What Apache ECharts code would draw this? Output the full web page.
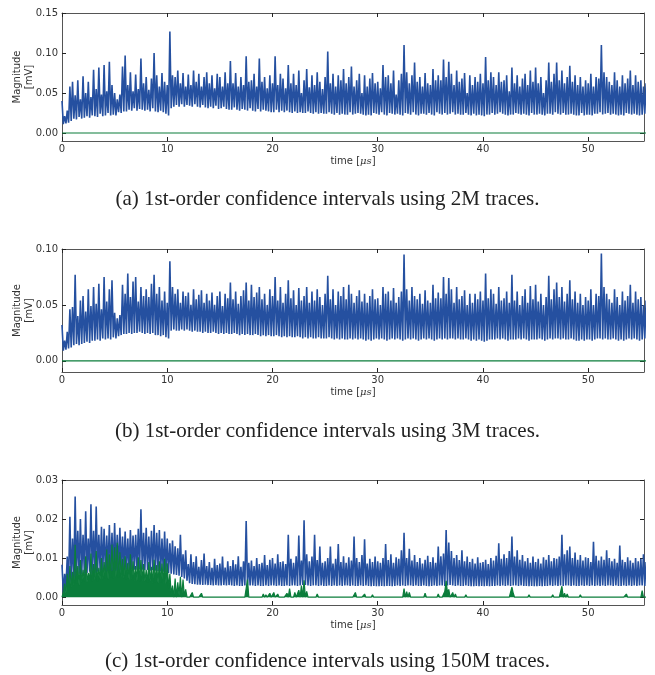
<!DOCTYPE html>
<html>
<head>
<meta charset="utf-8">
<script src="https://cdn.jsdelivr.net/npm/echarts@6/dist/echarts.min.js"></script>
<style>
  html, body { margin: 0; padding: 0; background: #fff; }
  #chart { width: 655px; height: 675px; }
</style>
</head>
<body>
<div id="chart"></div>
<script>
  // sampling step of the traces, in microseconds (8 samples per µs)
  const timeStep = 0.125;

  const xTicks = [0, 10, 20, 30, 40, 50];
  const yTicksA = [0, 0.05, 0.1, 0.15];
  const yTicksB = [0, 0.05, 0.1];
  const yTicksC = [0, 0.01, 0.02, 0.03];

  const captions = [
    '(a) 1st-order confidence intervals using 2M traces.',
    '(b) 1st-order confidence intervals using 3M traces.',
    '(c) 1st-order confidence intervals using 150M traces.',
  ];

  // (a) 2M traces, upper trace [mV], one row per µs
  const blueA = [
    0.040,0.011,0.021,0.012,0.028,0.013,0.058,0.015,
    0.064,0.018,0.047,0.017,0.066,0.020,0.042,0.018,
    0.071,0.019,0.050,0.021,0.064,0.019,0.045,0.022,
    0.079,0.021,0.055,0.020,0.082,0.024,0.048,0.021,
    0.085,0.022,0.052,0.025,0.089,0.022,0.060,0.023,
    0.050,0.022,0.042,0.026,0.048,0.025,0.083,0.027,
    0.097,0.027,0.060,0.029,0.076,0.028,0.052,0.031,
    0.073,0.028,0.055,0.030,0.093,0.029,0.062,0.028,
    0.070,0.029,0.054,0.027,0.068,0.031,0.100,0.027,
    0.072,0.026,0.058,0.028,0.075,0.026,0.064,0.024,
    0.060,0.022,0.127,0.031,0.072,0.033,0.070,0.035,
    0.078,0.033,0.062,0.036,0.075,0.033,0.058,0.035,
    0.073,0.034,0.060,0.033,0.078,0.036,0.064,0.033,
    0.074,0.032,0.058,0.035,0.070,0.032,0.076,0.031,
    0.062,0.033,0.072,0.031,0.056,0.034,0.074,0.030,
    0.070,0.031,0.058,0.033,0.076,0.030,0.062,0.029,
    0.090,0.029,0.062,0.032,0.075,0.029,0.058,0.028,
    0.070,0.030,0.060,0.029,0.096,0.028,0.064,0.031,
    0.066,0.028,0.074,0.027,0.058,0.030,0.093,0.027,
    0.064,0.029,0.070,0.028,0.056,0.027,0.072,0.026,
    0.062,0.026,0.096,0.029,0.060,0.026,0.074,0.028,
    0.068,0.026,0.056,0.028,0.085,0.026,0.062,0.025,
    0.074,0.027,0.060,0.025,0.078,0.026,0.050,0.025,
    0.066,0.025,0.080,0.027,0.057,0.025,0.072,0.024,
    0.060,0.026,0.076,0.024,0.064,0.025,0.055,0.024,
    0.070,0.024,0.102,0.026,0.062,0.024,0.074,0.023,
    0.058,0.025,0.072,0.023,0.066,0.024,0.080,0.023,
    0.062,0.023,0.070,0.026,0.083,0.023,0.058,0.024,
    0.066,0.025,0.074,0.024,0.050,0.023,0.072,0.022,
    0.058,0.023,0.068,0.022,0.075,0.025,0.062,0.024,
    0.064,0.023,0.056,0.026,0.085,0.023,0.070,0.022,
    0.072,0.025,0.062,0.024,0.078,0.023,0.048,0.024,
    0.066,0.023,0.074,0.022,0.110,0.025,0.076,0.024,
    0.062,0.023,0.072,0.026,0.088,0.023,0.064,0.022,
    0.070,0.024,0.058,0.024,0.075,0.023,0.062,0.025,
    0.060,0.023,0.080,0.022,0.066,0.026,0.072,0.024,
    0.066,0.023,0.092,0.025,0.070,0.023,0.089,0.024,
    0.074,0.026,0.060,0.023,0.078,0.024,0.064,0.023,
    0.068,0.023,0.075,0.025,0.050,0.023,0.072,0.022,
    0.060,0.024,0.070,0.022,0.064,0.023,0.074,0.022,
    0.062,0.021,0.095,0.023,0.066,0.023,0.076,0.025,
    0.070,0.023,0.060,0.024,0.076,0.026,0.064,0.024,
    0.066,0.023,0.072,0.022,0.052,0.023,0.082,0.023,
    0.062,0.025,0.072,0.024,0.058,0.023,0.068,0.024,
    0.074,0.023,0.060,0.022,0.078,0.025,0.064,0.023,
    0.082,0.023,0.062,0.024,0.070,0.023,0.050,0.022,
    0.066,0.024,0.088,0.024,0.064,0.023,0.074,0.026,
    0.088,0.024,0.066,0.023,0.078,0.025,0.062,0.023,
    0.070,0.023,0.084,0.024,0.064,0.023,0.072,0.022,
    0.060,0.022,0.070,0.025,0.058,0.022,0.066,0.023,
    0.062,0.023,0.074,0.022,0.058,0.024,0.070,0.024,
    0.068,0.026,0.110,0.023,0.076,0.024,0.070,0.025,
    0.064,0.023,0.060,0.024,0.076,0.023,0.066,0.022,
    0.058,0.023,0.072,0.022,0.062,0.025,0.068,0.024,
    0.078,0.023,0.060,0.024,0.072,0.023,0.064,0.022,
    0.066,0.023,0.058,0.024,0.062,0.023,0.060,0.024,
  ];
  // (a) lower trace: flat at zero
  const greenATime = [0, 55.875];
  const greenA = [0, 0];

  // (b) 3M traces, upper trace [mV]
  const blueB = [
    0.032,0.009,0.018,0.010,0.026,0.011,0.046,0.012,
    0.048,0.014,0.077,0.015,0.040,0.014,0.054,0.015,
    0.058,0.016,0.044,0.017,0.064,0.016,0.049,0.018,
    0.066,0.018,0.051,0.019,0.069,0.018,0.046,0.020,
    0.075,0.019,0.053,0.020,0.064,0.019,0.072,0.021,
    0.043,0.020,0.038,0.022,0.041,0.023,0.068,0.024,
    0.060,0.024,0.078,0.025,0.057,0.024,0.071,0.025,
    0.075,0.025,0.053,0.026,0.066,0.025,0.058,0.024,
    0.064,0.025,0.057,0.024,0.069,0.025,0.077,0.023,
    0.060,0.023,0.066,0.022,0.054,0.023,0.062,0.021,
    0.052,0.020,0.089,0.027,0.066,0.028,0.060,0.027,
    0.064,0.027,0.052,0.028,0.062,0.027,0.058,0.028,
    0.061,0.027,0.050,0.026,0.064,0.027,0.055,0.026,
    0.059,0.026,0.063,0.025,0.052,0.026,0.060,0.025,
    0.054,0.025,0.061,0.026,0.050,0.025,0.058,0.024,
    0.062,0.025,0.049,0.024,0.060,0.025,0.056,0.024,
    0.070,0.024,0.055,0.025,0.062,0.024,0.051,0.023,
    0.058,0.024,0.063,0.023,0.070,0.024,0.054,0.023,
    0.068,0.023,0.057,0.024,0.061,0.023,0.066,0.022,
    0.055,0.023,0.060,0.022,0.050,0.023,0.064,0.022,
    0.058,0.022,0.075,0.023,0.054,0.022,0.066,0.021,
    0.052,0.022,0.060,0.021,0.072,0.022,0.056,0.021,
    0.063,0.021,0.050,0.022,0.065,0.021,0.054,0.020,
    0.058,0.021,0.066,0.020,0.052,0.021,0.062,0.020,
    0.054,0.020,0.064,0.021,0.057,0.020,0.050,0.020,
    0.060,0.020,0.076,0.021,0.055,0.020,0.064,0.019,
    0.050,0.020,0.062,0.019,0.058,0.020,0.066,0.019,
    0.055,0.019,0.068,0.020,0.060,0.019,0.052,0.020,
    0.058,0.019,0.063,0.020,0.053,0.019,0.060,0.018,
    0.052,0.019,0.058,0.018,0.064,0.019,0.055,0.020,
    0.056,0.019,0.050,0.020,0.066,0.019,0.060,0.018,
    0.062,0.019,0.054,0.020,0.065,0.019,0.052,0.020,
    0.057,0.019,0.062,0.018,0.095,0.019,0.064,0.020,
    0.054,0.019,0.066,0.020,0.058,0.019,0.055,0.018,
    0.060,0.019,0.051,0.020,0.063,0.019,0.054,0.020,
    0.052,0.019,0.068,0.018,0.056,0.019,0.061,0.020,
    0.056,0.019,0.075,0.020,0.060,0.019,0.074,0.020,
    0.064,0.020,0.052,0.019,0.066,0.020,0.055,0.019,
    0.058,0.019,0.063,0.020,0.050,0.019,0.060,0.018,
    0.052,0.019,0.060,0.018,0.055,0.019,0.062,0.018,
    0.054,0.017,0.078,0.018,0.056,0.019,0.064,0.019,
    0.060,0.019,0.051,0.020,0.066,0.019,0.054,0.020,
    0.056,0.019,0.062,0.018,0.052,0.019,0.077,0.019,
    0.054,0.019,0.062,0.020,0.050,0.019,0.058,0.020,
    0.064,0.019,0.052,0.018,0.067,0.019,0.055,0.019,
    0.068,0.019,0.053,0.020,0.060,0.019,0.050,0.018,
    0.057,0.019,0.076,0.020,0.055,0.019,0.064,0.020,
    0.070,0.020,0.057,0.019,0.066,0.020,0.053,0.019,
    0.060,0.019,0.072,0.020,0.055,0.019,0.062,0.018,
    0.052,0.018,0.060,0.019,0.050,0.018,0.057,0.019,
    0.054,0.019,0.064,0.018,0.050,0.019,0.060,0.020,
    0.058,0.020,0.096,0.019,0.066,0.020,0.060,0.019,
    0.055,0.019,0.052,0.020,0.064,0.019,0.057,0.018,
    0.050,0.019,0.062,0.018,0.054,0.019,0.058,0.020,
    0.068,0.019,0.052,0.020,0.062,0.019,0.055,0.018,
    0.057,0.019,0.050,0.020,0.054,0.019,0.052,0.020,
  ];
  // (b) lower trace: zero with a tiny blip near 5 µs
  const greenBTime = [0, 4.875, 4.95, 5.0, 5.05, 5.125, 55.875];
  const greenB = [0, 0, 0.0012, 0, 0.0010, 0, 0];

  // (c) 150M traces, upper trace [mV]
  const blueC = [
    0.0083,0.0012,0.0060,0.0025,0.0104,0.0035,0.0206,0.0040,
    0.0150,0.0050,0.0258,0.0055,0.0170,0.0060,0.0200,0.0058,
    0.0160,0.0060,0.0220,0.0062,0.0150,0.0065,0.0238,0.0060,
    0.0170,0.0062,0.0232,0.0065,0.0160,0.0066,0.0180,0.0064,
    0.0175,0.0066,0.0158,0.0068,0.0185,0.0067,0.0165,0.0068,
    0.0190,0.0068,0.0160,0.0070,0.0178,0.0069,0.0155,0.0070,
    0.0168,0.0070,0.0150,0.0069,0.0172,0.0071,0.0158,0.0070,
    0.0160,0.0070,0.0175,0.0071,0.0225,0.0070,0.0165,0.0069,
    0.0178,0.0070,0.0155,0.0068,0.0170,0.0069,0.0185,0.0068,
    0.0165,0.0067,0.0172,0.0066,0.0150,0.0065,0.0168,0.0064,
    0.0150,0.0062,0.0138,0.0060,0.0145,0.0058,0.0130,0.0057,
    0.0125,0.0055,0.0160,0.0052,0.0110,0.0048,0.0120,0.0042,
    0.0085,0.0036,0.0110,0.0034,0.0090,0.0033,0.0105,0.0032,
    0.0078,0.0032,0.0095,0.0031,0.0112,0.0032,0.0080,0.0031,
    0.0090,0.0031,0.0075,0.0030,0.0098,0.0031,0.0082,0.0030,
    0.0086,0.0030,0.0104,0.0031,0.0076,0.0030,0.0092,0.0031,
    0.0080,0.0030,0.0095,0.0029,0.0084,0.0030,0.0105,0.0029,
    0.0078,0.0029,0.0092,0.0030,0.0195,0.0031,0.0088,0.0030,
    0.0094,0.0030,0.0080,0.0029,0.0100,0.0030,0.0085,0.0029,
    0.0088,0.0029,0.0108,0.0030,0.0082,0.0029,0.0096,0.0030,
    0.0100,0.0030,0.0086,0.0029,0.0110,0.0030,0.0090,0.0029,
    0.0092,0.0029,0.0085,0.0030,0.0160,0.0029,0.0098,0.0030,
    0.0088,0.0030,0.0105,0.0029,0.0158,0.0030,0.0094,0.0031,
    0.0197,0.0031,0.0110,0.0030,0.0092,0.0029,0.0104,0.0030,
    0.0160,0.0030,0.0095,0.0029,0.0130,0.0030,0.0088,0.0029,
    0.0092,0.0029,0.0100,0.0030,0.0130,0.0029,0.0086,0.0030,
    0.0098,0.0029,0.0136,0.0030,0.0090,0.0029,0.0105,0.0030,
    0.0088,0.0030,0.0102,0.0029,0.0094,0.0030,0.0155,0.0029,
    0.0100,0.0029,0.0090,0.0030,0.0108,0.0029,0.0148,0.0030,
    0.0086,0.0029,0.0098,0.0028,0.0090,0.0029,0.0104,0.0028,
    0.0092,0.0028,0.0088,0.0029,0.0100,0.0028,0.0136,0.0029,
    0.0095,0.0029,0.0110,0.0028,0.0088,0.0029,0.0102,0.0030,
    0.0098,0.0029,0.0120,0.0030,0.0165,0.0029,0.0100,0.0030,
    0.0124,0.0030,0.0094,0.0029,0.0108,0.0030,0.0090,0.0029,
    0.0100,0.0029,0.0086,0.0030,0.0096,0.0029,0.0106,0.0028,
    0.0090,0.0029,0.0102,0.0030,0.0088,0.0029,0.0130,0.0030,
    0.0105,0.0030,0.0112,0.0029,0.0172,0.0030,0.0140,0.0031,
    0.0118,0.0030,0.0100,0.0029,0.0108,0.0030,0.0095,0.0029,
    0.0120,0.0029,0.0092,0.0030,0.0104,0.0029,0.0090,0.0028,
    0.0098,0.0028,0.0086,0.0029,0.0102,0.0028,0.0088,0.0029,
    0.0090,0.0028,0.0096,0.0029,0.0085,0.0028,0.0100,0.0029,
    0.0094,0.0029,0.0106,0.0030,0.0138,0.0029,0.0098,0.0030,
    0.0110,0.0029,0.0100,0.0030,0.0118,0.0029,0.0155,0.0030,
    0.0104,0.0030,0.0120,0.0029,0.0096,0.0030,0.0108,0.0029,
    0.0092,0.0029,0.0100,0.0028,0.0088,0.0029,0.0104,0.0028,
    0.0090,0.0028,0.0098,0.0029,0.0086,0.0028,0.0102,0.0029,
    0.0096,0.0029,0.0108,0.0030,0.0092,0.0029,0.0100,0.0030,
    0.0098,0.0029,0.0104,0.0030,0.0160,0.0029,0.0110,0.0030,
    0.0120,0.0030,0.0130,0.0029,0.0100,0.0030,0.0114,0.0029,
    0.0096,0.0029,0.0108,0.0030,0.0094,0.0029,0.0102,0.0030,
    0.0100,0.0029,0.0090,0.0030,0.0142,0.0029,0.0106,0.0030,
    0.0094,0.0029,0.0104,0.0030,0.0096,0.0029,0.0120,0.0030,
    0.0100,0.0030,0.0092,0.0029,0.0098,0.0030,0.0088,0.0029,
    0.0132,0.0029,0.0096,0.0030,0.0090,0.0029,0.0102,0.0030,
    0.0094,0.0029,0.0088,0.0030,0.0100,0.0029,0.0092,0.0030,
    0.0098,0.0030,0.0110,0.0029,0.0090,0.0030,0.0096,0.0029,
  ];
  // (c) lower trace [mV]
  const greenC = [
    0,0.0012,0.0035,0.0010,0.0060,0.0018,0.0080,0.0025,
    0.0065,0.0030,0.0134,0.0035,0.0080,0.0030,0.0095,0.0038,
    0.0070,0.0040,0.0105,0.0038,0.0062,0.0042,0.0112,0.0040,
    0.0085,0.0044,0.0118,0.0040,0.0075,0.0046,0.0100,0.0045,
    0.0090,0.0048,0.0122,0.0045,0.0110,0.0050,0.0135,0.0048,
    0.0128,0.0052,0.0139,0.0050,0.0115,0.0052,0.0098,0.0048,
    0.0105,0.0046,0.0088,0.0044,0.0110,0.0045,0.0092,0.0042,
    0.0080,0.0042,0.0102,0.0040,0.0095,0.0042,0.0085,0.0040,
    0.0070,0.0038,0.0090,0.0040,0.0078,0.0036,0.0096,0.0038,
    0.0082,0.0036,0.0092,0.0038,0.0086,0.0034,0.0098,0.0034,
    0.0087,0.0022,0.0060,0.0008,0.0030,0,0.0048,0,
    0.0038,0.0005,0.0052,0,0.0045,0.0002,0.0020,0,
    0,0,0,0.0012,0,0,0,0,
    0,0,0.0010,0,0,0,0,0,
    0,0,0,0,0,0,0,0,
    0,0,0,0,0,0,0,0,
    0,0,0,0,0,0,0,0,
    0,0,0,0,0,0.0045,0,0,
    0,0,0,0,0,0,0,0,
    0,0.0008,0,0.0006,0,0,0.0010,0,
    0,0.0012,0,0,0.0008,0,0,0,
    0,0,0,0.0010,0,0.0022,0,0,
    0,0.0012,0,0,0.0018,0,0.0030,0,
    0.0043,0,0.0015,0,0,0,0,0,
    0,0,0.0008,0,0,0,0,0,
    0,0,0,0,0,0,0,0,
    0,0,0,0,0,0,0,0,
    0,0,0,0,0,0,0,0.0012,
    0,0,0,0,0,0,0.0008,0,
    0,0,0,0,0.0006,0,0,0,
    0,0,0,0,0,0,0,0,
    0,0,0,0,0,0,0,0,
    0,0,0,0,0.0022,0,0.0014,0,
    0.0012,0,0,0,0,0,0,0,
    0,0,0,0,0.0010,0,0,0,
    0,0,0,0,0,0,0.0008,0,
    0,0,0,0.0015,0.0042,0.0012,0.0020,0,
    0,0.0012,0,0.0008,0,0,0,0,
    0,0,0,0.0006,0,0,0,0,
    0,0,0,0,0,0,0,0,
    0,0,0,0,0,0,0,0,
    0,0,0,0,0,0,0,0,
    0,0,0,0,0,0,0.0026,0.0010,
    0,0,0,0,0,0,0,0,
    0,0,0,0.0006,0,0,0,0,
    0,0,0,0,0,0,0,0,
    0,0,0,0,0,0.0006,0,0,
    0,0,0,0,0.0028,0,0.0010,0,
    0.0008,0,0,0,0,0,0,0,
    0,0,0.0006,0,0,0,0,0,
    0,0,0,0,0,0,0,0,
    0,0,0,0,0,0,0,0,
    0,0,0,0,0,0,0,0,
    0,0,0,0,0,0.0008,0,0,
    0,0,0,0,0,0,0,0,
    0,0.0017,0,0,0,0,0,0,
  ];

  const blue = '#2550a0';
  const green = '#0b7d3b';
  const frame = '#555';
  const labelFont = 'DejaVu Sans';

  const onGrid = (values) => values.map((v, i) => [i * timeStep, v]);
  const pairs = (times, values) => times.map((t, i) => [t, values[i]]);

  const panels = [
    { top: 13, height: 128, yMin: -0.01, yMax: 0.15, yTicks: yTicksA, blue: blueA, green: pairs(greenATime, greenA), fill: false },
    { top: 249, height: 123, yMin: -0.01, yMax: 0.1, yTicks: yTicksB, blue: blueB, green: pairs(greenBTime, greenB), fill: false },
    { top: 480, height: 125, yMin: -0.002, yMax: 0.03, yTicks: yTicksC, blue: blueC, green: onGrid(greenC), fill: true },
  ];
  const captionTops = [184, 416, 646];

  const grid = [];
  const xAxis = [];
  const yAxis = [];
  const series = [];

  panels.forEach((p, k) => {
    grid.push({ left: 62, top: p.top, width: 582, height: p.height, show: false, containLabel: false, outerBoundsMode: 'none' });
    const tick = { show: true, inside: true, length: 4, lineStyle: { color: '#222', width: 1 } };
    const line = { show: true, onZero: false, lineStyle: { color: frame, width: 1 } };
    // bottom + top x axes
    xAxis.push({
      type: 'value', gridIndex: k, min: 0, max: 55.3, position: 'bottom',
      axisLine: line, splitLine: { show: false },
      axisTick: { ...tick, customValues: xTicks },
      axisLabel: { customValues: xTicks, color: '#333', fontFamily: labelFont, fontSize: 10, margin: 3 },
      name: 'time [{i|μs}]', nameLocation: 'middle', nameGap: 15, nameMoveOverlap: false,
      nameTextStyle: { color: '#333', fontFamily: labelFont, fontSize: 10,
        rich: { i: { fontFamily: 'DejaVu Serif', fontStyle: 'italic', fontSize: 10, color: '#333' } } },
    });
    xAxis.push({
      type: 'value', gridIndex: k, min: 0, max: 55.3, position: 'top',
      axisLine: line, splitLine: { show: false },
      axisTick: { ...tick, customValues: xTicks }, axisLabel: { show: false },
    });
    // left + right y axes
    yAxis.push({
      type: 'value', gridIndex: k, min: p.yMin, max: p.yMax, position: 'left',
      axisLine: line, splitLine: { show: false },
      axisTick: { ...tick, customValues: p.yTicks },
      axisLabel: { customValues: p.yTicks, formatter: (v) => v.toFixed(2), color: '#333', fontFamily: labelFont, fontSize: 10, margin: 4 },
      name: 'Magnitude\n[mV]', nameLocation: 'middle', nameRotate: 90, nameGap: 27, nameMoveOverlap: false,
      nameTextStyle: { color: '#333', fontFamily: labelFont, fontSize: 10, lineHeight: 12, align: 'center' },
    });
    yAxis.push({
      type: 'value', gridIndex: k, min: p.yMin, max: p.yMax, position: 'right',
      axisLine: line, splitLine: { show: false },
      axisTick: { ...tick, customValues: p.yTicks }, axisLabel: { show: false },
    });

    series.push({
      type: 'line', xAxisIndex: 2 * k, yAxisIndex: 2 * k, data: onGrid(p.blue),
      showSymbol: false, symbol: 'none', clip: true,
      lineStyle: { color: blue, width: 1.6 }, itemStyle: { color: blue },
    });
    series.push({
      type: 'line', xAxisIndex: 2 * k, yAxisIndex: 2 * k, data: p.green,
      showSymbol: false, symbol: 'none', clip: true,
      lineStyle: { color: green, width: 1.2 }, itemStyle: { color: green },
      areaStyle: p.fill ? { color: green, opacity: 1, origin: 0 } : undefined,
    });
  });

  const chart = echarts.init(document.getElementById('chart'), null, { renderer: 'canvas' });
  chart.setOption({
    animation: false,
    backgroundColor: '#fff',
    title: captions.map((text, k) => ({
      text, left: 'center', top: captionTops[k],
      textStyle: { fontFamily: 'Liberation Serif', fontSize: 21, fontWeight: 'normal', color: '#222' },
    })),
    grid, xAxis, yAxis, series,
  });
</script>
</body>
</html>
